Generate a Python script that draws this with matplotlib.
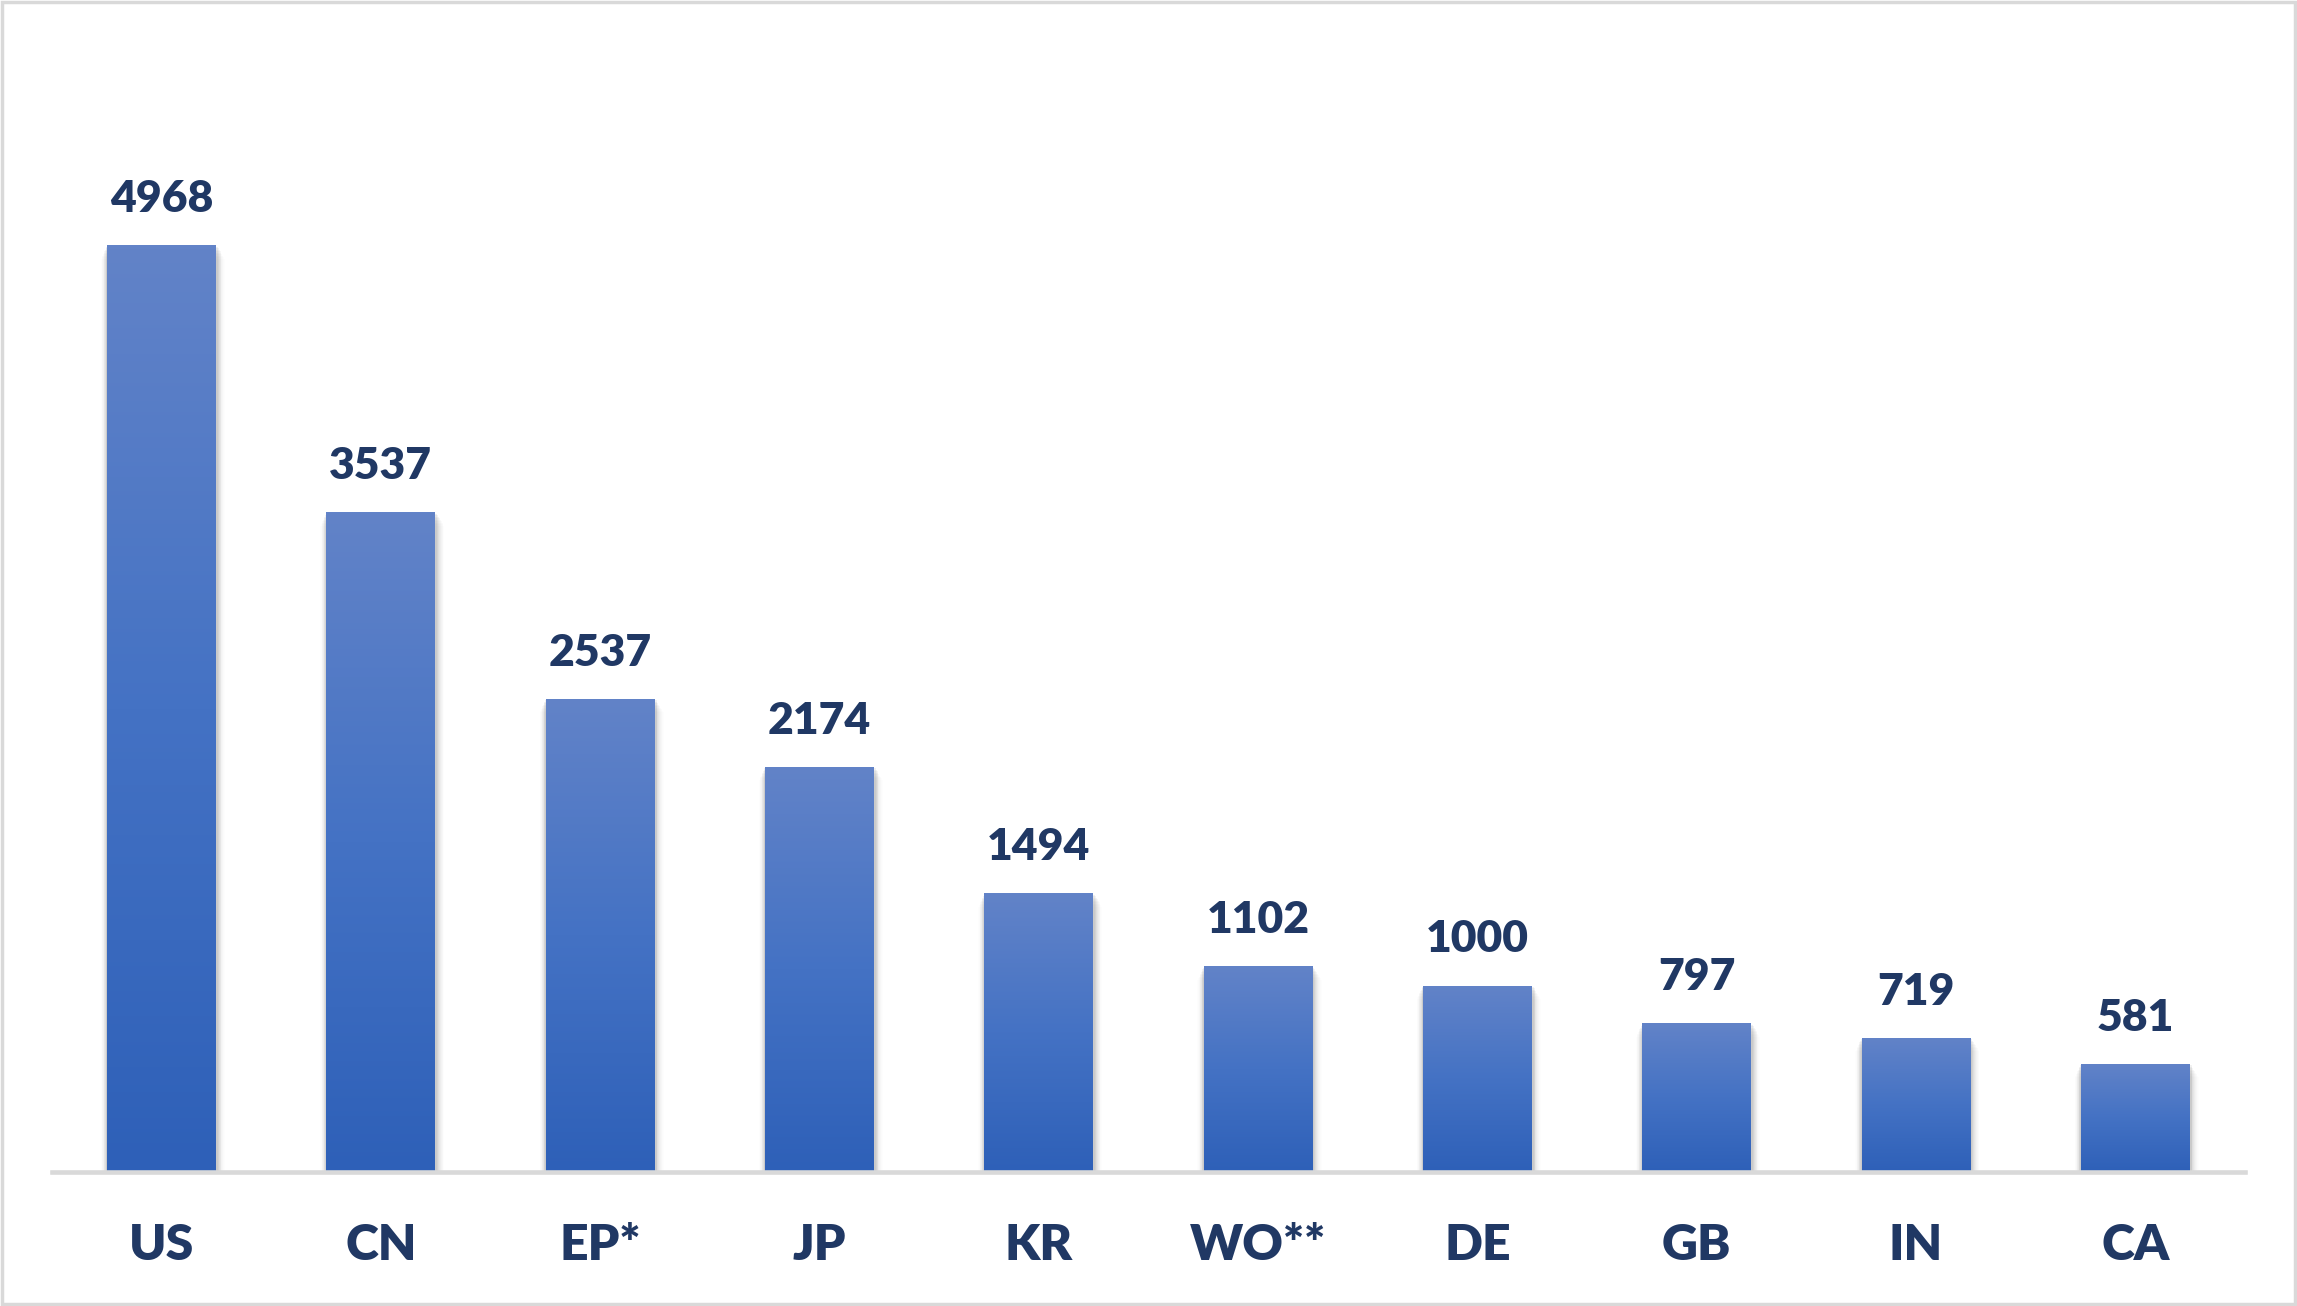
import numpy as np
import matplotlib
matplotlib.use("Agg")
import matplotlib.pyplot as plt
from matplotlib.colors import LinearSegmentedColormap
from matplotlib.patches import Rectangle

categories = ["US", "CN", "EP*", "JP", "KR", "WO**", "DE", "GB", "IN", "CA"]
values = [4968, 3537, 2537, 2174, 1494, 1102, 1000, 797, 719, 581]

W, H, DPI = 2297, 1306, 100
fig = plt.figure(figsize=(W / DPI, H / DPI), dpi=DPI)
fig.patch.set_facecolor("white")

base_px = 1172
scale = 0.1865  # px per unit
ymax = 6000
ax_h = ymax * scale
ax = fig.add_axes([52 / W, (H - base_px) / H, 2193 / W, ax_h / H])
ax.set_xlim(-0.5, len(categories) - 0.5)
ax.set_ylim(0, ymax)

x = np.arange(len(categories))
bar_w = 0.497
text_color = "#203864"
font = ["Lato", "DejaVu Sans"]

cmap = LinearSegmentedColormap.from_list("g", ["#2e60b8", "#4472c4", "#6283c8"])
grad = np.linspace(0, 1, 256).reshape(-1, 1)

# soft shadows
for xi, v in zip(x, values):
    for k, a in zip(range(1, 10), [0.14, 0.11, 0.09, 0.07, 0.055, 0.04, 0.03, 0.02, 0.012]):
        d = k * 0.0045
        ax.add_patch(Rectangle((xi - bar_w / 2 - d * 0.7, 0), bar_w + d * 1.6 + 0.004, v - k * 8,
                               facecolor="#555555", alpha=a * 0.6, edgecolor="none", zorder=1))

bars = ax.bar(x, values, width=bar_w, color="none", edgecolor="none", zorder=2)
for b, v in zip(bars, values):
    x0 = b.get_x()
    im = ax.imshow(grad, extent=[x0, x0 + b.get_width(), 0, v], origin="lower",
                   aspect="auto", cmap=cmap, zorder=3)
    im.set_clip_path(b)

for xi, v in zip(x, values):
    ax.annotate(str(v), (xi, v), xytext=(0, 26), textcoords="offset pixels",
                ha="center", va="bottom", fontsize=32, fontweight="heavy",
                color=text_color, family=font)

ax.set_xticks(x)
ax.set_xticklabels(categories, fontsize=36, fontweight="heavy", color=text_color, family=font)
ax.tick_params(axis="x", length=0, pad=37)
ax.set_yticks([])
for s in ["top", "right", "left"]:
    ax.spines[s].set_visible(False)
ax.spines["bottom"].set_color("#d9d9d9")
ax.spines["bottom"].set_linewidth(3.3)
ax.spines["bottom"].set_zorder(4)
ax.set_facecolor("none")

fig.add_artist(Rectangle((0.0008, 0.0012), 0.9984, 0.9976, transform=fig.transFigure,
                         facecolor="none", edgecolor="#d9d9d9", linewidth=2.5))

fig.savefig("out.png", dpi=DPI)
